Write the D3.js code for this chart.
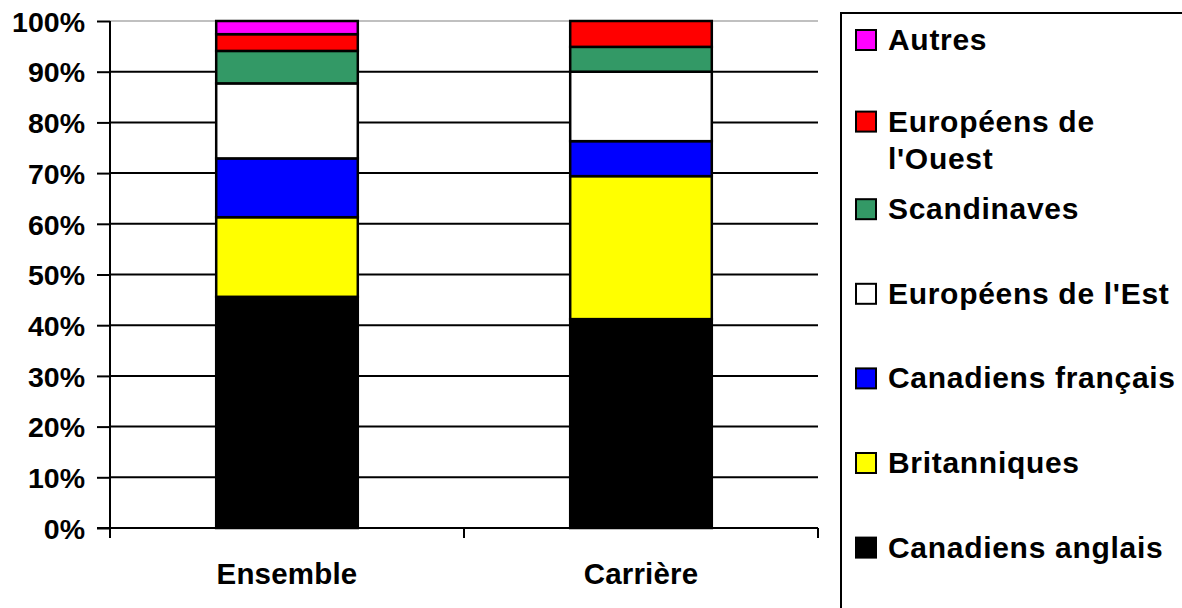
<!DOCTYPE html>
<html><head><meta charset="utf-8">
<script src="https://cdn.jsdelivr.net/npm/d3@7/dist/d3.min.js"></script>
<style>body{margin:0;background:#fff;overflow:hidden}svg{display:block}text{font-family:"Liberation Sans",Arial,sans-serif;font-weight:bold;fill:#000}</style>
</head><body><svg id="c" width="1182" height="608"></svg>
<script>
const categories = ["Ensemble", "Carrière"];
const seriesNames = ["Canadiens anglais", "Britanniques", "Canadiens français", "Européens de l'Est", "Scandinaves", "Européens de l'Ouest", "Autres"];
const seriesColors = ["#000000", "#ffff00", "#0000ff", "#ffffff", "#339966", "#ff0000", "#ff00ff"];
const canadiensAnglais = [45.6, 41.2];
const britanniques = [15.7, 28.2];
const canadiensFrancais = [11.6, 6.9];
const europeensEst = [14.8, 13.7];
const scandinaves = [6.4, 4.9];
const europeensOuest = [3.3, 5.1];
const autres = [2.6, 0];
const yTicks = [0, 10, 20, 30, 40, 50, 60, 70, 80, 90, 100];
const legendLines = [["Autres"], ["Européens de", "l'Ouest"], ["Scandinaves"], ["Européens de l'Est"], ["Canadiens français"], ["Britanniques"], ["Canadiens anglais"]];

const values = [canadiensAnglais, britanniques, canadiensFrancais, europeensEst, scandinaves, europeensOuest, autres];
const table = categories.map((c, j) => {
  const o = {cat: c};
  seriesNames.forEach((s, i) => o[s] = values[i][j]);
  return o;
});
const stacked = d3.stack().keys(seriesNames)(table);

const svg = d3.select("#c");
const L = 110, R = 818, T = 21, B = 528;
const x = d3.scaleBand().domain(categories).range([L, R]).paddingInner(0.6).paddingOuter(0.3);
const xb = d3.scaleBand().domain(categories).range([L, R]);
const y = d3.scaleLinear().domain([0, 100]).range([B, T]);

// gridlines
svg.append("g").selectAll("line").data(yTicks.filter(t => t > 0 && t < 100)).join("line")
  .attr("x1", L).attr("x2", R).attr("y1", d => y(d)).attr("y2", d => y(d))
  .attr("stroke", "#000").attr("stroke-width", 2);
svg.append("line").attr("x1", L).attr("x2", R).attr("y1", y(100)).attr("y2", y(100))
  .attr("stroke", "#c0c0c0").attr("stroke-width", 2);

// bars
svg.append("g").selectAll("g").data(stacked).join("g")
  .attr("fill", (d, i) => seriesColors[i])
  .selectAll("rect").data(d => d.filter(p => p[1] - p[0] > 0)).join("rect")
  .attr("x", d => x(d.data.cat)).attr("width", x.bandwidth())
  .attr("y", d => y(d[1])).attr("height", d => y(d[0]) - y(d[1]))
  .attr("stroke", "#000").attr("stroke-width", 2.5);

// y axis
const ya = svg.append("g").attr("transform", `translate(${L},0)`)
  .call(d3.axisLeft(y).tickValues(yTicks).tickFormat(d => d + "%").tickSize(13).tickPadding(12));
ya.select(".domain").attr("stroke", "#000").attr("stroke-width", 2).attr("d", `M0,${T}V${B + 10}`);
ya.selectAll(".tick line").attr("stroke", "#000").attr("stroke-width", 2);
ya.selectAll(".tick text").style("font-size", "28.5px").attr("dy", "0.36em");

// x axis
const xa = svg.append("g").attr("transform", `translate(0,${B})`)
  .call(d3.axisBottom(xb).tickSize(0).tickPadding(0));
xa.select(".domain").attr("stroke", "#000").attr("stroke-width", 2).attr("d", `M${L - 13},0H${R}`);
xa.selectAll(".tick text").style("font-size", "29.5px").attr("y", 56).attr("dy", 0).style("letter-spacing", "0.2px");
const bounds = categories.map(c => xb(c)).concat([R]);
xa.append("g").selectAll("line").data(bounds).join("line")
  .attr("x1", d => d).attr("x2", d => d).attr("y1", 0).attr("y2", 10)
  .attr("stroke", "#000").attr("stroke-width", 2);

// legend
const lg = svg.append("g");
lg.append("rect").attr("x", 841).attr("y", 13).attr("width", 400).attr("height", 700)
  .attr("fill", "#fff").attr("stroke", "#000").attr("stroke-width", 2);
const legendOrder = seriesNames.map((s, i) => i).reverse();
legendOrder.forEach((si, k) => {
  const cy = 40 + 84.6 * k - (legendLines[k].length > 1 ? 3 : 0);
  const g = lg.append("g");
  g.append("rect").attr("x", 856).attr("y", cy - 10).attr("width", 20).attr("height", 20)
    .attr("fill", seriesColors[si]).attr("stroke", "#000").attr("stroke-width", 2);
  legendLines[k].forEach((ln, li) => {
    g.append("text").attr("x", 888).attr("y", cy + 10 + li * 37).style("font-size", "30px")
      .style("letter-spacing", "0.7px").text(ln);
  });
});
</script></body></html>
